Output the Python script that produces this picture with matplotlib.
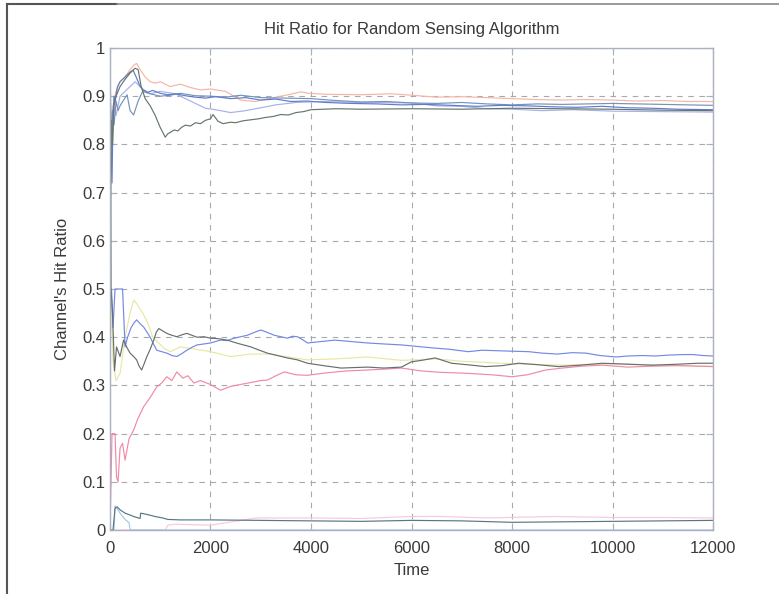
import matplotlib.pyplot as plt
from matplotlib.lines import Line2D

plt.rcParams['font.family'] = ['Liberation Sans', 'DejaVu Sans']

# cumulative hit ratio per channel, sampled along the run (time step, ratio)
t_salmon = [0, 30, 60, 120, 200, 300, 400, 480, 530, 600, 700, 800, 900, 1000, 1200, 1400, 1600, 1800,
            2000, 2300, 2600, 2900, 3200, 3500, 3800, 3950, 4300, 5000, 5600, 6000, 6500, 7000, 7500,
            8000, 8500, 9000, 9500, 10000, 10500, 11000, 11500, 12000]
hr_salmon = [0.90, 0.85, 0.88, 0.91, 0.93, 0.94, 0.955, 0.965, 0.968, 0.955, 0.94, 0.93, 0.927, 0.93,
             0.92, 0.925, 0.918, 0.913, 0.915, 0.91, 0.892, 0.889, 0.896, 0.902, 0.909, 0.906, 0.904,
             0.903, 0.905, 0.902, 0.898, 0.899, 0.897, 0.895, 0.893, 0.892, 0.893, 0.892, 0.890, 0.891,
             0.889, 0.889]

t_navy = [0, 20, 40, 60, 80, 100, 150, 200, 250, 300, 350, 400, 460, 520, 600, 660, 750, 850, 1000,
          1150, 1300, 1500, 1700, 1900, 2100, 2400, 2700, 3000, 3300, 3600, 3900, 4300, 4800, 5300,
          5800, 6300, 6800, 7300, 7800, 8300, 8800, 9300, 9800, 10300, 10800, 11300, 12000]
hr_navy = [1.0, 0.80, 0.72, 0.86, 0.90, 0.89, 0.92, 0.93, 0.935, 0.94, 0.945, 0.95, 0.954, 0.94, 0.92,
           0.913, 0.908, 0.912, 0.906, 0.903, 0.905, 0.901, 0.898, 0.896, 0.899, 0.895, 0.897, 0.892,
           0.894, 0.889, 0.89, 0.887, 0.885, 0.884, 0.882, 0.883, 0.881, 0.879, 0.881, 0.88, 0.878,
           0.877, 0.879, 0.876, 0.875, 0.873, 0.872]

t_steel = [0, 10, 25, 50, 80, 120, 160, 200, 260, 340, 400, 470, 560, 650, 800, 1000, 1200, 1400,
           1700, 2000, 2300, 2600, 3000, 3500, 4000, 4500, 5000, 5500, 6000, 6500, 7000, 7500, 8000,
           8500, 9000, 9500, 10000, 10500, 11000, 11500, 12000]
hr_steel = [0.5, 0.75, 0.82, 0.87, 0.84, 0.89, 0.87, 0.88, 0.89, 0.903, 0.87, 0.861, 0.89, 0.91,
            0.905, 0.9, 0.902, 0.906, 0.901, 0.9, 0.898, 0.902, 0.897, 0.896, 0.895, 0.891, 0.888,
            0.889, 0.886, 0.885, 0.887, 0.884, 0.882, 0.884, 0.883, 0.884, 0.885, 0.884, 0.883, 0.882,
            0.881]

t_lavender = [0, 15, 40, 70, 120, 200, 300, 400, 500, 650, 800, 1000, 1300, 1600, 1900, 2100, 2400,
              2700, 3000, 3300, 3700, 4200, 5000, 6000, 6500, 7000, 7500, 8000, 8600, 9200, 10000,
              11000, 12000]
hr_lavender = [1.0, 0.75, 0.82, 0.88, 0.86, 0.9, 0.91, 0.92, 0.93, 0.915, 0.905, 0.91, 0.905, 0.89,
               0.875, 0.872, 0.866, 0.87, 0.876, 0.882, 0.887, 0.889, 0.887, 0.886, 0.88, 0.879, 0.874,
               0.873, 0.87, 0.872, 0.869, 0.868, 0.867]

t_moss = [0, 15, 30, 50, 80, 120, 200, 300, 400, 500, 560, 620, 700, 800, 900, 1000, 1100, 1150,
          1200, 1280, 1350, 1420, 1500, 1600, 1700, 1800, 1900, 2000, 2050, 2150, 2250, 2400, 2500,
          2650, 2800, 2950, 3100, 3250, 3400, 3550, 3700, 3850, 4000, 4500, 5000, 6000, 7000, 8000,
          9000, 10000, 11000, 12000]
hr_moss = [0.0, 0.70, 0.85, 0.80, 0.88, 0.90, 0.92, 0.935, 0.948, 0.958, 0.955, 0.92, 0.895, 0.88,
           0.86, 0.835, 0.815, 0.822, 0.825, 0.83, 0.828, 0.835, 0.84, 0.838, 0.845, 0.843, 0.85,
           0.853, 0.862, 0.848, 0.843, 0.846, 0.845, 0.849, 0.851, 0.853, 0.856, 0.858, 0.862, 0.861,
           0.866, 0.868, 0.872, 0.874, 0.873, 0.874, 0.873, 0.875, 0.874, 0.873, 0.871, 0.870]

t_blue = [0, 10, 30, 60, 100, 150, 200, 250, 300, 350, 420, 480, 530, 600, 670, 740, 800, 870, 930,
          1030, 1130, 1230, 1330, 1430, 1530, 1630, 1730, 1870, 2000, 2100, 2200, 2330, 2470, 2600,
          2730, 2870, 3000, 3130, 3270, 3400, 3530, 3630, 3730, 3830, 3930, 4200, 4470, 4800, 5130,
          5450, 5800, 6100, 6400, 6750, 7130, 7400, 7700, 8000, 8330, 8600, 8900, 9200, 9470, 9750,
          10070, 10300, 10600, 10850, 11130, 11400, 11600, 11800, 12000]
hr_blue = [0.33, 0.5, 0.5, 0.42, 0.5, 0.5, 0.5, 0.5, 0.38, 0.40, 0.42, 0.43, 0.436, 0.428, 0.421,
           0.41, 0.40, 0.385, 0.373, 0.37, 0.367, 0.362, 0.36, 0.366, 0.373, 0.379, 0.384, 0.386,
           0.388, 0.391, 0.394, 0.393, 0.398, 0.401, 0.404, 0.41, 0.415, 0.41, 0.404, 0.401, 0.398,
           0.402, 0.401, 0.395, 0.388, 0.391, 0.394, 0.391, 0.388, 0.386, 0.384, 0.381, 0.378,
           0.375, 0.37, 0.373, 0.372, 0.371, 0.37, 0.367, 0.365, 0.368, 0.367, 0.362, 0.359, 0.361,
           0.362, 0.361, 0.363, 0.364, 0.364, 0.362, 0.361]

t_graphite = [0, 20, 50, 90, 130, 200, 270, 330, 400, 470, 530, 580, 630, 680, 730, 800, 870, 920,
              970, 1050, 1130, 1230, 1330, 1430, 1530, 1630, 1730, 1870, 2000, 2150, 2330, 2550, 2800,
              2950, 3130, 3330, 3530, 3730, 3930, 4250, 4600, 4850, 5130, 5450, 5800, 6000, 6200,
              6470, 6650, 6800, 7100, 7470, 7800, 8130, 8500, 8930, 9350, 9800, 10300, 10800, 11300,
              11700, 12000]
hr_graphite = [1.0, 0.5, 0.45, 0.33, 0.38, 0.36, 0.394, 0.38, 0.367, 0.36, 0.353, 0.34, 0.332,
               0.345, 0.359, 0.375, 0.394, 0.41, 0.418, 0.413, 0.408, 0.404, 0.401, 0.405, 0.408,
               0.404, 0.40, 0.401, 0.398, 0.397, 0.394, 0.387, 0.38, 0.374, 0.367, 0.362, 0.357,
               0.353, 0.346, 0.341, 0.336, 0.337, 0.338, 0.336, 0.338, 0.349, 0.352, 0.357, 0.351,
               0.346, 0.343, 0.339, 0.341, 0.346, 0.343, 0.339, 0.342, 0.346, 0.344, 0.342, 0.344,
               0.346, 0.346]

t_yellow = [0, 20, 60, 120, 200, 300, 400, 470, 530, 650, 750, 850, 950, 1100, 1200, 1400, 1700, 2000,
            2400, 2800, 3200, 3600, 3930, 4500, 5130, 5800, 6500, 7000, 8000, 9000, 10000, 11000, 12000]
hr_yellow = [0.67, 0.5, 0.35, 0.31, 0.325, 0.40, 0.45, 0.477, 0.47, 0.45, 0.43, 0.40, 0.39, 0.375,
             0.37, 0.38, 0.375, 0.37, 0.36, 0.365, 0.365, 0.358, 0.353, 0.355, 0.359, 0.352, 0.355,
             0.35, 0.345, 0.342, 0.345, 0.342, 0.34]

t_rose = [0, 40, 100, 130, 160, 200, 250, 300, 380, 470, 550, 670, 800, 930, 1030, 1130, 1230, 1330,
          1450, 1550, 1670, 1800, 2000, 2200, 2400, 2600, 2800, 3000, 3130, 3300, 3470, 3700, 3930,
          4300, 4700, 5130, 5500, 5800, 6200, 6600, 7130, 7600, 8000, 8300, 8670, 9000, 9400, 9800,
          10300, 10800, 11300, 12000]
hr_rose = [0.0, 0.2, 0.2, 0.11, 0.10, 0.17, 0.18, 0.145, 0.19, 0.207, 0.23, 0.256, 0.275, 0.297,
           0.305, 0.318, 0.31, 0.328, 0.315, 0.32, 0.305, 0.31, 0.302, 0.29, 0.298, 0.302, 0.306,
           0.31, 0.311, 0.32, 0.328, 0.322, 0.321, 0.326, 0.33, 0.332, 0.334, 0.336, 0.33, 0.327,
           0.325, 0.322, 0.318, 0.322, 0.332, 0.336, 0.34, 0.342, 0.338, 0.34, 0.341, 0.339]

t_teal = [0, 60, 100, 140, 200, 300, 400, 500, 600, 610, 750, 900, 1050, 1150, 1400, 2000, 3000,
          4000, 5000, 6000, 7000, 8000, 9000, 10000, 11000, 12000]
hr_teal = [0.0, 0.0, 0.045, 0.048, 0.042, 0.035, 0.031, 0.027, 0.024, 0.035, 0.032, 0.028, 0.025,
           0.022, 0.021, 0.021, 0.02, 0.019, 0.018, 0.02, 0.019, 0.016, 0.017, 0.018, 0.019, 0.02]

t_sky = [0, 80, 100, 140, 200, 300, 380, 400, 12000]
hr_sky = [0.0, 0.0, 0.05, 0.045, 0.035, 0.022, 0.015, 0.0, 0.0]

t_blush = [0, 1100, 1150, 1300, 2000, 2900, 4000, 5000, 6000, 6600, 7500, 8800, 9500, 10000, 11000,
           12000]
hr_blush = [0.0, 0.0, 0.01, 0.012, 0.01, 0.025, 0.025, 0.024, 0.028, 0.028, 0.025, 0.028, 0.027,
            0.026, 0.026, 0.025]

series = [
    (t_yellow, hr_yellow, '#e8e8a4'),
    (t_blush, hr_blush, '#f7cad6'),
    (t_rose, hr_rose, '#f08aa4'),
    (t_salmon, hr_salmon, '#f7b4a6'),
    (t_lavender, hr_lavender, '#a6b0ec'),
    (t_sky, hr_sky, '#a4c8e6'),
    (t_steel, hr_steel, '#7592b8'),
    (t_navy, hr_navy, '#5e7bcc'),
    (t_blue, hr_blue, '#7488e4'),
    (t_moss, hr_moss, '#66766a'),
    (t_graphite, hr_graphite, '#686e70'),
    (t_teal, hr_teal, '#577880'),
]

text_color = '#3a3a3a'
fig = plt.figure(figsize=(7.79, 5.94), dpi=100)
ax = fig.add_axes([0.1412, 0.1077, 0.7741, 0.8115])

for t, hr, c in series:
    ax.plot(t, hr, color=c, lw=0.85)

ax.set_xlim(0, 12000)
ax.set_ylim(0, 1)
ax.set_xticks(range(0, 12001, 2000))
ax.set_yticks([i / 10 for i in range(11)])
ax.set_yticklabels(['0', '0.1', '0.2', '0.3', '0.4', '0.5', '0.6', '0.7', '0.8', '0.9', '1'])
ax.grid(True, color='#a6a9b0', lw=0.8, linestyle=(0, (5, 5)))
ax.tick_params(direction='in', length=5, width=0.8, colors='#a8b0c0', labelcolor=text_color,
               labelsize=12, top=True, right=True)
ax.tick_params(axis='x', pad=8)
for sp in ax.spines.values():
    sp.set_color('#aab2c2')
    sp.set_linewidth(1.0)

ax.set_title('Hit Ratio for Random Sensing Algorithm', fontsize=12, color=text_color, pad=10)
ax.set_xlabel('Time', fontsize=12, color=text_color, labelpad=5)
ax.set_ylabel("Channel's Hit Ratio", fontsize=12, color=text_color, labelpad=9)

# window frame around the figure
fig.add_artist(Line2D([0.009, 0.009], [0.0, 0.993], color='#555555', lw=1.5))
fig.add_artist(Line2D([0.009, 0.15], [0.993, 0.993], color='#555555', lw=1.5))
fig.add_artist(Line2D([0.15, 1.0], [0.993, 0.993], color='#8a8a8a', lw=1.2))

fig.savefig('out.png', dpi=100)
